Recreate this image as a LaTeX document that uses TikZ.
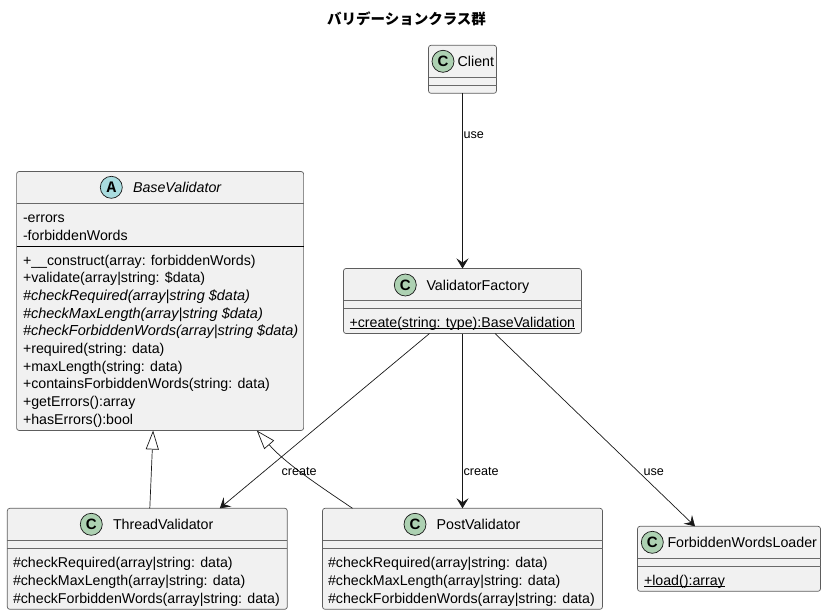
\documentclass[tikz,border=0pt]{standalone}
\usepackage{fontspec}
\setmainfont{Liberation Sans}
\newfontfamily\cjkfont{Noto Sans CJK JP}
\newfontfamily\glyphfont{Liberation Mono}
\usetikzlibrary{arrows.meta,calc}
\definecolor{boxfill}{HTML}{F1F1F1}
\definecolor{boxline}{HTML}{181818}
\definecolor{classc}{HTML}{ADD1B2}
\definecolor{classa}{HTML}{A9DCDF}
\newcommand{\staticul}[1]{\setbox0=\hbox{#1}\rlap{\rule[-1.8pt]{\wd0}{0.7pt}}\box0}
\tikzset{
  umlbox/.style={draw=boxline!70,fill=boxfill,line width=0.7pt,rounded corners=2.5pt,inner sep=0pt,outer sep=0pt},
  sepline/.style={draw=boxline!65,line width=0.7pt},
  blackline/.style={draw=black,line width=0.7pt},
  spot/.style={circle,draw=boxline,line width=0.7pt,minimum size=22pt,inner sep=0pt,outer sep=0pt,font=\fontsize{15}{15}\selectfont\bfseries},
  cspot/.style={spot,fill=classc},
  aspot/.style={spot,fill=classa,font=\fontsize{16}{16}\selectfont\glyphfont\bfseries},
  cname/.style={inner sep=0pt,outer sep=0pt,anchor=base west,font=\fontsize{14.25}{14.25}\selectfont,text=black},
  memb/.style={inner sep=0pt,outer sep=0pt,anchor=base west,font=\fontsize{14.2}{14.2}\selectfont,text=black},
  imemb/.style={memb,font=\fontsize{14.5}{14.5}\selectfont\itshape},
  elabel/.style={inner sep=0pt,outer sep=0pt,anchor=base west,font=\fontsize{12.6}{12.6}\selectfont,text=black},
  conn/.style={draw=boxline,line width=0.7pt},
  usearrow/.style={conn,-{Stealth[length=10pt,width=12pt,inset=4pt,fill=boxline]}},
  inherit/.style={conn,-{Triangle[open,length=19pt,width=13pt,fill=white]}},
}
\begin{document}
\begin{tikzpicture}[x=1pt,y=-1pt]
\useasboundingbox (0,0) rectangle (826,615);
\node[inner sep=0pt,anchor=base,font=\fontsize{14.5}{14.5}\selectfont\cjkfont\bfseries] (title) at (406.5,24.5) {バリデーションクラス群};

% boxes
\node[umlbox,minimum width=68pt,minimum height=48pt] (client) at (462.5,69.3) {};
\node[umlbox,minimum width=287pt,minimum height=259pt] (base) at (160.1,301) {};
\node[umlbox,minimum width=238pt,minimum height=65pt] (factory) at (462.5,301) {};
\node[umlbox,minimum width=280pt,minimum height=101pt] (thread) at (147.3,558.8) {};
\node[umlbox,minimum width=280pt,minimum height=101pt] (post) at (462.5,558.8) {};
\node[umlbox,minimum width=183pt,minimum height=65pt] (loader) at (729,558.8) {};

% compartment separators
\draw[sepline] (client.west |- 0,77.3) -- (client.east |- 0,77.3);
\draw[sepline] (client.west |- 0,85.3) -- (client.east |- 0,85.3);
\draw[sepline] (base.west |- 0,203.3) -- (base.east |- 0,203.3);
\draw[blackline] (base.west |- 0,246.3) -- (base.east |- 0,246.3);
\draw[sepline] (factory.west |- 0,300.7) -- (factory.east |- 0,300.7);
\draw[sepline] (factory.west |- 0,308.3) -- (factory.east |- 0,308.3);
\draw[sepline] (thread.west |- 0,540.3) -- (thread.east |- 0,540.3);
\draw[sepline] (thread.west |- 0,548.3) -- (thread.east |- 0,548.3);
\draw[sepline] (post.west |- 0,540.3) -- (post.east |- 0,540.3);
\draw[sepline] (post.west |- 0,548.3) -- (post.east |- 0,548.3);
\draw[sepline] (loader.west |- 0,558.3) -- (loader.east |- 0,558.3);
\draw[sepline] (loader.west |- 0,566.3) -- (loader.east |- 0,566.3);

% spots
\node[cspot] (sclient) at (443,61.3) {C};
\node[aspot] (sbase) at (111.3,187.3) {A};
\node[cspot] (sfactory) at (405.3,285) {C};
\node[cspot] (sthread) at (91.3,524.3) {C};
\node[cspot] (spost) at (415,524.3) {C};
\node[cspot] (sloader) at (652.3,542.3) {C};

% class names
\node[cname] (nclient) at (457.7,66.5) {Client};
\node[cname,font=\fontsize{14.25}{14.25}\selectfont\itshape] (nbase) at (133,192.5) {BaseValidator};
\node[cname] (nfactory) at (426.5,290) {ValidatorFactory};
\node[cname] (nthread) at (113,529.5) {ThreadValidator};
\node[cname] (npost) at (436.7,529.5) {PostValidator};
\node[cname] (nloader) at (667.5,547.5) {ForbiddenWordsLoader};

% BaseValidator members
\node[memb] (b1) at (23,222.3) {-errors};
\node[memb] (b2) at (23,240.3) {-forbiddenWords};
\node[memb] (b3) at (23,265) {+\_\_construct(array: forbiddenWords)};
\node[memb] (b4) at (23,282.7) {+validate(array|string: \$data)};
\node[imemb] (b5) at (23,300.4) {\#checkRequired(array|string \$data)};
\node[imemb] (b6) at (23,318.1) {\#checkMaxLength(array|string \$data)};
\node[imemb] (b7) at (23,335.8) {\#checkForbiddenWords(array|string \$data)};
\node[memb] (b8) at (23,353.5) {+required(string: data)};
\node[memb] (b9) at (23,371.2) {+maxLength(string: data)};
\node[memb] (b10) at (23,388.9) {+containsForbiddenWords(string: data)};
\node[memb] (b11) at (23,406.6) {+getErrors():array};
\node[memb] (b12) at (23,424.3) {+hasErrors():bool};

% other members
\node[memb] (f1) at (349.5,327) {\staticul{+create(string: type):BaseValidation}};
\node[memb] (t1) at (13,567) {\#checkRequired(array|string: data)};
\node[memb] (t2) at (13,585) {\#checkMaxLength(array|string: data)};
\node[memb] (t3) at (13,603) {\#checkForbiddenWords(array|string: data)};
\node[memb] (p1) at (328,567) {\#checkRequired(array|string: data)};
\node[memb] (p2) at (328,585) {\#checkMaxLength(array|string: data)};
\node[memb] (p3) at (328,603) {\#checkForbiddenWords(array|string: data)};
\node[memb] (l1) at (644,585) {\staticul{+load():array}};

% connectors
\draw[usearrow] (client) -- (factory);
\draw[usearrow] (factory) -- (post);
\draw[usearrow] ([xshift=-33pt]factory.south) -- ([xshift=72.5pt]thread.north);
\draw[usearrow] ([xshift=32.5pt]factory.south) -- ([xshift=-34pt]loader.north);
\draw[inherit] ([xshift=2.5pt]thread.north) -- ([xshift=-7pt]base.south);
\draw[inherit] ([xshift=-110pt]post.north) .. controls (318,485) and (285,463) .. ([xshift=96.7pt]base.south);

% edge labels
\node[elabel] (lclientuse) at (463.5,138) {use};
\node[elabel] (lcreatea) at (281.5,475) {create};
\node[elabel] (lcreateb) at (463.5,475) {create};
\node[elabel] (lloaduse) at (643.5,475) {use};
\end{tikzpicture}
\end{document}
